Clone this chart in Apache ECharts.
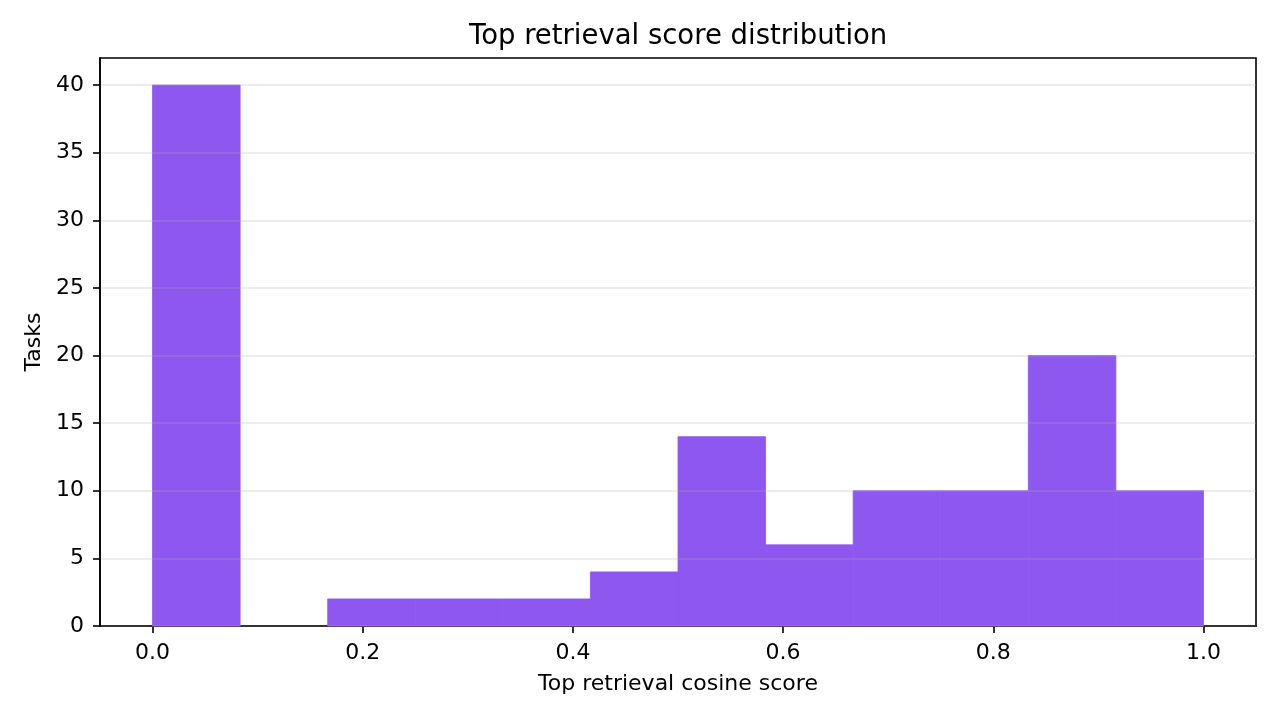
<!DOCTYPE html>
<html>
<head>
<meta charset="utf-8">
<script src="https://cdn.jsdelivr.net/npm/echarts@6/dist/echarts.min.js"></script>
<style>
  html, body { margin: 0; padding: 0; background: #fff; }
  #chart { width: 1280px; height: 720px; }
</style>
</head>
<body>
<div id="chart"></div>
<script>
// histogram: 12 equal bins over [0, 1]
var binLow = 0;
var binHigh = 1;
var binCounts = [40, 0, 2, 2, 2, 4, 14, 6, 10, 10, 20, 10];
var xTicks = [0, 0.2, 0.4, 0.6, 0.8, 1.0];
var yTicks = [0, 5, 10, 15, 20, 25, 30, 35, 40];

var binWidth = (binHigh - binLow) / binCounts.length;
var bins = binCounts.map(function (c, i) {
    return [binLow + i * binWidth, binLow + (i + 1) * binWidth, c];
});

var font = 'DejaVu Sans';
var barColor = '#8e57f0';
var myChart = echarts.init(document.getElementById('chart'));

var option = {
    animation: false,
    textStyle: { fontFamily: font },
    title: {
        text: 'Top retrieval score distribution',
        left: 464,
        top: 18,
        textStyle: { fontFamily: font, fontSize: 27.5, fontWeight: 'normal', color: '#000' }
    },
    grid: {
        left: 100,
        right: 24,
        top: 58,
        bottom: 94,
        show: true,
        borderColor: '#000',
        borderWidth: 1.6,
        backgroundColor: 'transparent'
    },
    xAxis: {
        type: 'value',
        min: -0.05,
        max: 1.05,
        name: 'Top retrieval cosine score',
        nameLocation: 'middle',
        nameGap: 47,
        nameTextStyle: { fontFamily: font, fontSize: 22, color: '#000' },
        axisLine: { show: true, onZero: false, lineStyle: { color: '#000', width: 1.6 } },
        axisTick: { show: true, length: 7, lineStyle: { color: '#000', width: 1.6 }, customValues: xTicks },
        axisLabel: {
            customValues: xTicks,
            fontSize: 22,
            color: '#000',
            margin: 16,
            formatter: function (v) { return v.toFixed(1); }
        },
        splitLine: { show: false }
    },
    yAxis: {
        type: 'value',
        min: 0,
        max: 42,
        z: 5,
        name: 'Tasks',
        nameLocation: 'middle',
        nameGap: 54,
        nameTextStyle: { fontFamily: font, fontSize: 22, color: '#000' },
        axisLine: { show: true, onZero: false, lineStyle: { color: '#000', width: 1.6 } },
        axisTick: { show: true, length: 7, lineStyle: { color: '#000', width: 1.6 }, customValues: yTicks },
        axisLabel: { customValues: yTicks, fontSize: 22, color: '#000', margin: 16 },
        splitLine: { show: true, lineStyle: { color: 'rgba(176,176,176,0.3)', width: 1.6 } }
    },
    series: [{
        type: 'custom',
        z: 2,
        data: bins,
        encode: { x: [0, 1], y: 2 },
        renderItem: function (params, api) {
            if (!api.value(2)) {
                return null;
            }
            var p0 = api.coord([api.value(0), api.value(2)]);
            var p1 = api.coord([api.value(1), 0]);
            return {
                type: 'rect',
                shape: { x: p0[0], y: p0[1], width: p1[0] - p0[0], height: p1[1] - p0[1] },
                style: { fill: barColor, stroke: barColor, lineWidth: 0.8 }
            };
        }
    }]
};

myChart.setOption(option);
</script>
</body>
</html>
